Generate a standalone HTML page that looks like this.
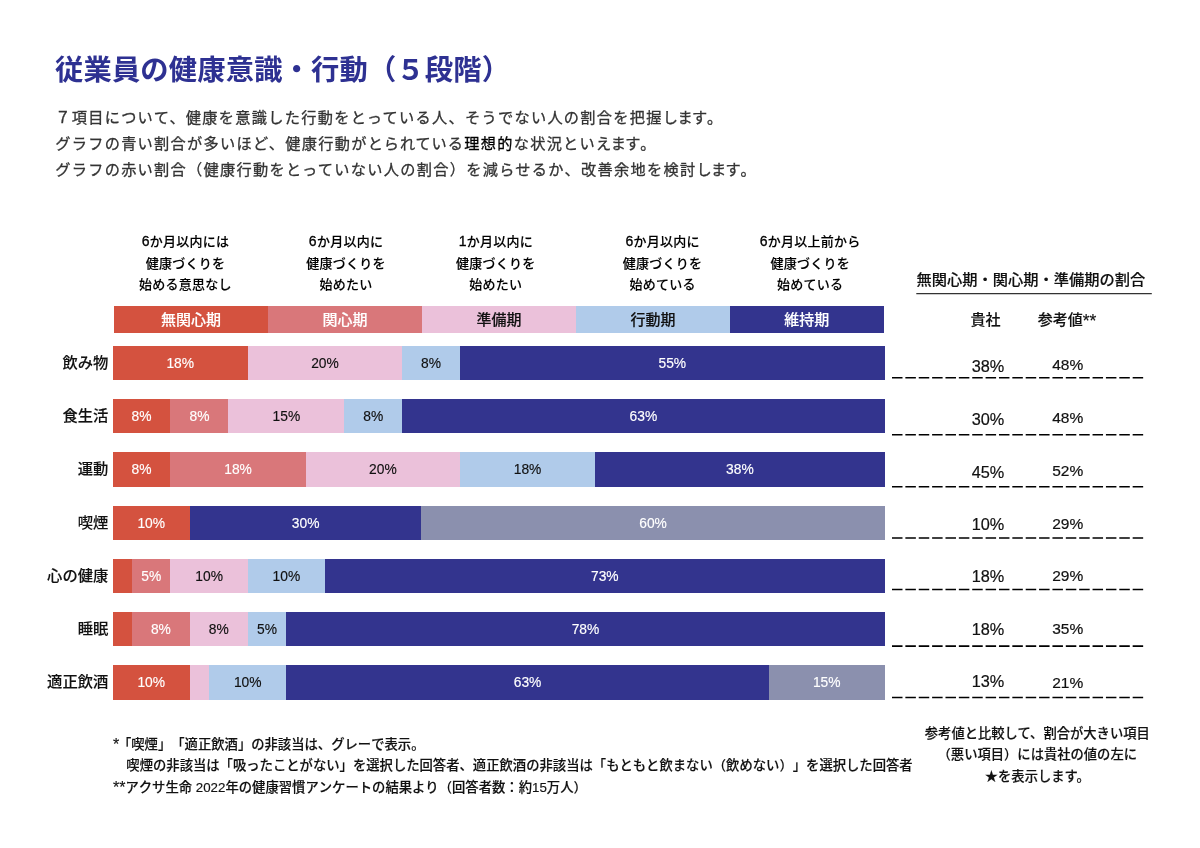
<!DOCTYPE html>
<html lang="ja">
<head>
<meta charset="utf-8">
<title>従業員の健康意識・行動（５段階）</title>
<style>
html,body{margin:0;padding:0;background:#fff;}
body{text-spacing-trim:space-all;width:1200px;height:848px;position:relative;overflow:hidden;font-family:"Liberation Sans","Noto Sans CJK JP",sans-serif;color:#000;}
div{position:absolute;white-space:nowrap;box-sizing:border-box;}
.title{left:55px;top:49px;letter-spacing:0.15px;font-size:28.3px;font-weight:700;color:#2e3192;line-height:42px;}
.para{left:55.2px;top:105px;font-size:15.2px;letter-spacing:1.3px;line-height:26.2px;color:#333;-webkit-text-stroke:0.3px #333;}
.para s{text-decoration:none;letter-spacing:-0.6px;}
.para em{font-style:normal;letter-spacing:0.9px;}
.para b{font-weight:400;color:#000;-webkit-text-stroke:0.3px #000;}
.ch{top:231px;width:154px;text-align:center;font-size:13px;letter-spacing:0.25px;font-weight:500;line-height:21.5px;color:#000;-webkit-text-stroke:0.12px;}
.ch u{text-decoration:none;font-size:14px;line-height:10px;-webkit-text-stroke:0.3px;}
.hd{top:306.3px;height:27px;width:154.4px;text-align:center;font-size:15px;font-weight:500;line-height:28.2px;-webkit-text-stroke:0.15px;}
.w{color:#fff;}
.k{color:#111;}
.rl{left:0;width:108.3px;text-align:right;font-size:15.3px;font-weight:500;-webkit-text-stroke:0.12px;height:34.3px;line-height:34.3px;color:#111;}
.sg{height:34.3px;line-height:36px;text-align:center;font-size:13.8px;-webkit-text-stroke:0.15px;}
.va{left:958px;width:60px;text-align:center;font-size:16.3px;height:20px;line-height:20px;color:#111;-webkit-text-stroke:0.2px;}
.vb{left:1037.7px;width:60px;text-align:center;font-size:15.5px;height:20px;line-height:20px;color:#111;-webkit-text-stroke:0.2px;}
.dls{position:absolute;left:0;top:0;pointer-events:none;}
.dls .ul{stroke:#333;stroke-width:1.3;stroke-dasharray:none;}
.dls line{stroke:#000;stroke-width:1.6;stroke-dasharray:10.5 2.87;}
.rt{-webkit-text-stroke:0.15px;left:916.5px;top:268px;width:235px;font-size:15.25px;font-weight:500;line-height:24px;color:#111;height:26.3px;}
.rh{-webkit-text-stroke:0.15px;top:308px;font-size:15px;line-height:24px;font-weight:500;color:#111;text-align:center;}
.as{font-size:17.5px;line-height:10px;vertical-align:-1.5px;}
.fn{-webkit-text-stroke:0.15px;font-kerning:none;left:113px;top:733.7px;font-size:13.33px;font-weight:500;line-height:21.6px;color:#111;}
.fn i{font-style:normal;font-size:16px;line-height:10px;vertical-align:-1.2px;}
.rn{-webkit-text-stroke:0.15px;left:907.3px;top:722.7px;width:260px;text-align:center;font-size:13.3px;font-weight:500;line-height:21.6px;color:#111;}
</style>
</head>
<body>
<div class="title">従業員の健康意識・行動（５段階）</div>
<div class="para">７項目について、健康を意識した行動をとっている人、そうでない人の割合を把握<s>しま</s>す。<br>グラフの青い割合が多いほど、健康行動が<em>とられてい</em>る<b>理想的</b>な状況とい<s>えま</s>す。<br>グラフの赤い割合（健康行動をとっていない人の割合）を減らせるか、改善余地を検討<s>しま</s>す。</div>

<div class="ch" style="left:108.5px"><u>6</u>か月以内には<br>健康づくりを<br>始める意思なし</div>
<div class="ch" style="left:269.0px"><u>6</u>か月以内に<br>健康づくりを<br>始めたい</div>
<div class="ch" style="left:418.8px"><u>1</u>か月以内に<br>健康づくりを<br>始めたい</div>
<div class="ch" style="left:585.6px"><u>6</u>か月以内に<br>健康づくりを<br>始めている</div>
<div class="ch" style="left:733.2px"><u>6</u>か月以上前から<br>健康づくりを<br>始めている</div>

<div class="hd w" style="left:113.8px;background:#d4523f">無関心期</div>
<div class="hd w" style="left:267.8px;background:#d9777a">関心期</div>
<div class="hd k" style="left:421.8px;background:#ebc1da">準備期</div>
<div class="hd k" style="left:575.8px;background:#b0cbea">行動期</div>
<div class="hd w" style="left:729.8px;width:154px;background:#33348e">維持期</div>

<div class="rl" style="top:345.70px">飲み物</div>
<div class="sg w" style="left:112.50px;top:345.70px;width:135.40px;background:#d4523f">18%</div>
<div class="sg k" style="left:247.60px;top:345.70px;width:154.70px;background:#ebc1da">20%</div>
<div class="sg k" style="left:402.00px;top:345.70px;width:58.20px;background:#b0cbea">8%</div>
<div class="sg w" style="left:459.90px;top:345.70px;width:424.90px;background:#33348e">55%</div>
<div class="va" style="top:356.00px">38%</div>
<div class="vb" style="top:354.80px">48%</div>
<div class="rl" style="top:398.97px">食生活</div>
<div class="sg w" style="left:112.50px;top:398.97px;width:58.20px;background:#d4523f">8%</div>
<div class="sg w" style="left:170.40px;top:398.97px;width:58.20px;background:#d9777a">8%</div>
<div class="sg k" style="left:228.30px;top:398.97px;width:116.10px;background:#ebc1da">15%</div>
<div class="sg k" style="left:344.10px;top:398.97px;width:58.20px;background:#b0cbea">8%</div>
<div class="sg w" style="left:402.00px;top:398.97px;width:482.80px;background:#33348e">63%</div>
<div class="va" style="top:408.90px">30%</div>
<div class="vb" style="top:407.80px">48%</div>
<div class="rl" style="top:452.24px">運動</div>
<div class="sg w" style="left:112.50px;top:452.24px;width:58.20px;background:#d4523f">8%</div>
<div class="sg w" style="left:170.40px;top:452.24px;width:135.40px;background:#d9777a">18%</div>
<div class="sg k" style="left:305.50px;top:452.24px;width:154.70px;background:#ebc1da">20%</div>
<div class="sg k" style="left:459.90px;top:452.24px;width:135.40px;background:#b0cbea">18%</div>
<div class="sg w" style="left:595.00px;top:452.24px;width:289.80px;background:#33348e">38%</div>
<div class="va" style="top:461.50px">45%</div>
<div class="vb" style="top:461.00px">52%</div>
<div class="rl" style="top:505.51px">喫煙</div>
<div class="sg w" style="left:112.50px;top:505.51px;width:77.50px;background:#d4523f">10%</div>
<div class="sg w" style="left:189.70px;top:505.51px;width:231.90px;background:#33348e">30%</div>
<div class="sg w" style="left:421.30px;top:505.51px;width:463.50px;background:#8b90ae">60%</div>
<div class="va" style="top:513.70px">10%</div>
<div class="vb" style="top:514.40px">29%</div>
<div class="rl" style="top:558.78px">心の健康</div>
<div class="sg w" style="left:112.50px;top:558.78px;width:19.60px;background:#d4523f"></div>
<div class="sg w" style="left:131.80px;top:558.78px;width:38.90px;background:#d9777a">5%</div>
<div class="sg k" style="left:170.40px;top:558.78px;width:77.50px;background:#ebc1da">10%</div>
<div class="sg k" style="left:247.60px;top:558.78px;width:77.50px;background:#b0cbea">10%</div>
<div class="sg w" style="left:324.80px;top:558.78px;width:560.00px;background:#33348e">73%</div>
<div class="va" style="top:565.90px">18%</div>
<div class="vb" style="top:566.10px">29%</div>
<div class="rl" style="top:612.05px">睡眠</div>
<div class="sg w" style="left:112.50px;top:612.05px;width:19.60px;background:#d4523f"></div>
<div class="sg w" style="left:131.80px;top:612.05px;width:58.20px;background:#d9777a">8%</div>
<div class="sg k" style="left:189.70px;top:612.05px;width:58.20px;background:#ebc1da">8%</div>
<div class="sg k" style="left:247.60px;top:612.05px;width:38.90px;background:#b0cbea">5%</div>
<div class="sg w" style="left:286.20px;top:612.05px;width:598.60px;background:#33348e">78%</div>
<div class="va" style="top:618.50px">18%</div>
<div class="vb" style="top:619.00px">35%</div>
<div class="rl" style="top:665.32px">適正飲酒</div>
<div class="sg w" style="left:112.50px;top:665.32px;width:77.50px;background:#d4523f">10%</div>
<div class="sg k" style="left:189.70px;top:665.32px;width:19.60px;background:#ebc1da"></div>
<div class="sg k" style="left:209.00px;top:665.32px;width:77.50px;background:#b0cbea">10%</div>
<div class="sg w" style="left:286.20px;top:665.32px;width:482.80px;background:#33348e">63%</div>
<div class="sg w" style="left:768.70px;top:665.32px;width:116.10px;background:#8b90ae">15%</div>
<div class="va" style="top:671.00px">13%</div>
<div class="vb" style="top:672.80px">21%</div>
<svg class="dls" width="1200" height="848" viewBox="0 0 1200 848"><line x1="892" y1="377.70" x2="1143.3" y2="377.70"/><line x1="892" y1="434.80" x2="1143.3" y2="434.80"/><line x1="892" y1="486.70" x2="1143.3" y2="486.70"/><line x1="892" y1="538.00" x2="1143.3" y2="538.00"/><line x1="892" y1="589.50" x2="1143.3" y2="589.50"/><line x1="892" y1="646.10" x2="1143.3" y2="646.10"/><line x1="892" y1="697.50" x2="1143.3" y2="697.50"/><line class="ul" x1="916.3" y1="293.6" x2="1151.8" y2="293.6"/></svg>

<div class="rt">無関心期・関心期・準備期の割合</div>
<div class="rh" style="left:955.4px;width:60px">貴社</div>
<div class="rh" style="left:1027px;width:80px">参考値<span class="as">**</span></div>

<div class="fn"><i style="margin-right:-1.3px">*</i>「喫煙」「適正飲酒」の非該当は、グレーで表示。<br>　喫煙の非該当は「吸ったことがない」を選択した回答者、適正飲酒の非該当は「もともと飲まない（飲めない）」を選択した回答者<br><i>**</i>アクサ生命 2022年の健康習慣アンケートの結果より（回答者数：約15万人）</div>
<div class="rn">参考値と比較して、割合が大きい項目<br>（悪い項目）には貴社の値の左に<br>★を表示します。</div>
</body>
</html>
